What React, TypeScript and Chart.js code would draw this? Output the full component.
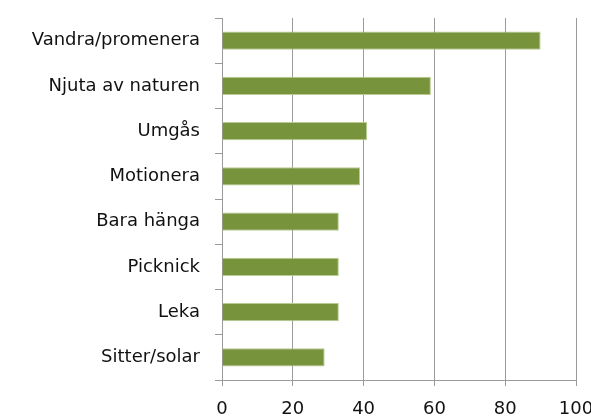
import React, { useEffect, useRef } from "react";
import { Chart, registerables } from "chart.js";

Chart.register(...registerables);

const categories = [
  "Vandra/promenera",
  "Njuta av naturen",
  "Umgås",
  "Motionera",
  "Bara hänga",
  "Picknick",
  "Leka",
  "Sitter/solar",
];
const values = [90, 59, 41, 39, 33, 33, 33, 29];
const xTicks = [0, 20, 40, 60, 80, 100];

const FONT = "'DejaVu Sans'";

export default function App() {
  const ref = useRef<HTMLCanvasElement | null>(null);
  useEffect(() => {
    document.body.style.margin = "0";
    const ctx = ref.current!;
    const chart = new Chart(ctx, {
      type: "bar",
      data: {
        labels: categories,
        datasets: [
          {
            data: values,
            backgroundColor: "#77933C",
            borderColor: "#B9CB93",
            borderWidth: 1,
            barPercentage: 0.4,
            categoryPercentage: 1,
          },
        ],
      },
      options: {
        indexAxis: "y",
        animation: false,
        responsive: false,
        maintainAspectRatio: false,
        layout: { padding: { top: 18, right: 15, left: 0, bottom: 0 } },
        plugins: { legend: { display: false }, tooltip: { enabled: false } },
        scales: {
          x: {
            min: 0,
            max: 100,
            afterBuildTicks: (axis: any) => {
              axis.ticks = xTicks.map((v) => ({ value: v }));
            },
            afterFit: (axis: any) => {
              axis.height = 38;
              axis.paddingLeft = 0;
              axis.paddingRight = 0;
            },
            grid: {
              color: "#9a9a9a",
              lineWidth: 1,
              tickLength: 6,
              drawTicks: true,
            },
            border: { display: true, color: "#9a9a9a" },
            ticks: {
              color: "#111",
              font: { family: FONT, size: 18 },
              padding: 13,
            },
          },
          y: {
            afterFit: (axis: any) => {
              axis.width = 222;
              axis.paddingTop = 0;
              axis.paddingBottom = 0;
            },
            grid: {
              offset: true,
              drawOnChartArea: false,
              color: "#9a9a9a",
              tickLength: 7,
            },
            border: { display: true, color: "#9a9a9a" },
            ticks: {
              color: "#111",
              font: { family: FONT, size: 18 },
              padding: 15,
            },
          },
        },
      },
    });
    return () => chart.destroy();
  }, []);
  return (
    <div style={{ width: 591, height: 418 }}>
      <canvas ref={ref} width={591} height={418} style={{ display: "block" }} />
    </div>
  );
}
